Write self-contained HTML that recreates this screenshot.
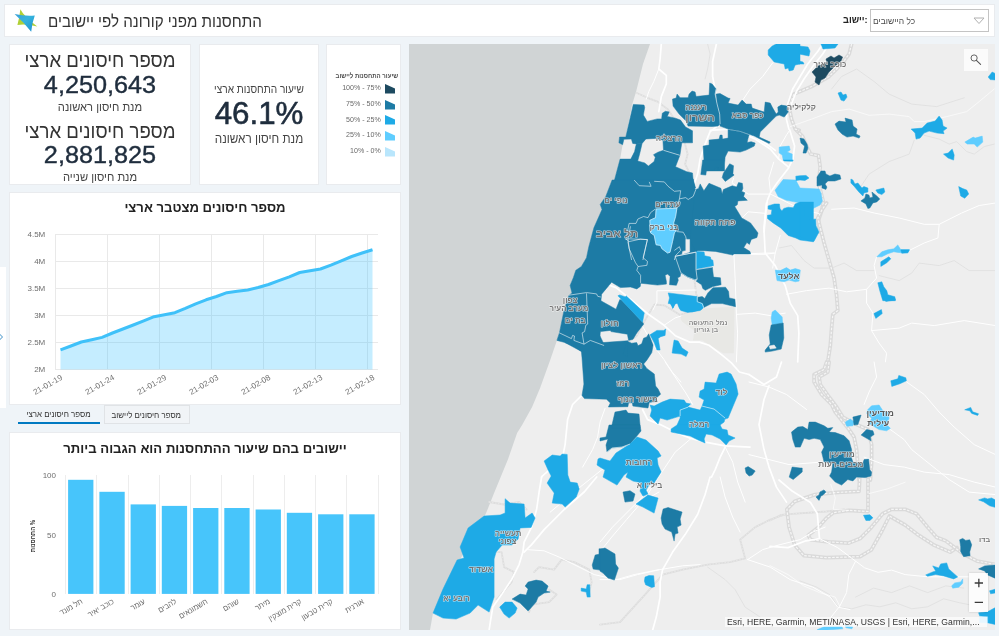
<!DOCTYPE html>
<html lang="he">
<head>
<meta charset="utf-8">
<title>התחסנות מפני קורונה לפי יישובים</title>
<style>
*{box-sizing:border-box;margin:0;padding:0}
html,body{width:999px;height:636px;overflow:hidden;background:#eff4f8;font-family:"Liberation Sans","DejaVu Sans",sans-serif;color:#2b3a4a}
.abs{position:absolute}
.card{position:absolute;background:#fff;box-shadow:inset 0 0 0 1px #e9ebee}
.c{position:absolute;left:0;right:0;text-align:center;white-space:nowrap}
.he{direction:rtl;transform:scaleX(.93)}
#hdr{left:4px;top:4px;width:991px;height:33px}
#title{position:absolute;left:44.2px;top:5.5px;font-size:16.5px;line-height:22px;color:#333;white-space:nowrap;direction:rtl;transform-origin:left center;transform:scaleX(.9185)}
#sel{position:absolute;left:866px;top:5px;width:119px;height:23px;border:1px solid #c4c4c4;background:#fff}
#sel span{position:absolute;left:2.4px;top:4px;font-size:9.15px;line-height:14px;color:#4a4a4a;direction:rtl;white-space:nowrap;transform-origin:left center;transform:scaleX(.93)}
#sellab{position:absolute;left:838.8px;top:9px;font-size:9.9px;font-weight:bold;line-height:14px;color:#222;direction:ltr;white-space:nowrap;transform-origin:left center;transform:scaleX(.93)}
.big{font-size:20px;line-height:24px;color:#333}
.num{font-size:23.6px;line-height:28px;color:#1f2d3d;direction:ltr;-webkit-text-stroke:.4px #1f2d3d;transform:scaleX(1.07)}
.sm{font-size:12px;line-height:14px;color:#444}
.ttl{font-size:14px;line-height:18px;font-weight:bold;color:#222}
.tab{position:absolute;top:405px;height:19px;font-size:8.5px;line-height:18px;text-align:center;color:#333;white-space:nowrap}
.tab span{display:inline-block;direction:rtl;transform:scaleX(.93)}
#map{position:absolute;left:409px;top:44px;width:585.6px;height:586px;overflow:hidden;background:#eeeeee}
</style>
</head>
<body>
<div class="abs" style="left:0;top:267px;width:6px;height:141px;background:#fff"></div>
<svg class="abs" style="left:0;top:331px" width="6" height="12" viewBox="0 0 6 12"><path d="M-2 1.5 L2.5 6 L-2 10.5" fill="none" stroke="#3b8fc7" stroke-width="1"/></svg>
<div class="card" id="hdr">
  <svg class="abs" style="left:10px;top:4px" width="26" height="26" viewBox="0 0 26 26">
    <defs><linearGradient id="lg" x1="0" y1="0" x2="1" y2="1"><stop offset="0" stop-color="#3a9fd6"/><stop offset=".45" stop-color="#35b4de"/><stop offset="1" stop-color="#1c8fcf"/></linearGradient></defs>
    <path d="M6.4 1.2 Q9.5 7.8 23.3 18.6 Q12 15.6 3.4 17 Q5.3 10 6.4 1.2 Z" fill="#b0d036"/>
    <path d="M0.6 6 Q10.5 8.4 20.8 7.6 Q18 15 17.2 23.8 Q10 14.6 0.6 6 Z" fill="url(#lg)"/>
  </svg>
  <div id="title">התחסנות מפני קורונה לפי יישובים</div>
  <div id="sellab">יישוב:</div>
  <div id="sel"><span>כל היישובים</span>
    <svg class="abs" style="left:102px;top:7px" width="12" height="8" viewBox="0 0 12 8"><path d="M1 1 L6 6.5 L11 1 Z" fill="none" stroke="#b0b0b0" stroke-width="1"/></svg>
  </div>
</div>

<div class="card" style="left:9px;top:44px;width:182px;height:141px">
  <div class="c big he" style="top:4px">מספר חיסונים ארצי</div>
  <div class="c num" style="top:27px">4,250,643</div>
  <div class="c sm he" style="top:56px">מנת חיסון ראשונה</div>
  <div class="c big he" style="top:75px">מספר חיסונים ארצי</div>
  <div class="c num" style="top:97px">2,881,825</div>
  <div class="c sm he" style="top:126px">מנת חיסון שנייה</div>
</div>

<div class="card" style="left:199px;top:44px;width:120px;height:141px">
  <div class="c sm he" style="top:38px;font-size:11px;transform:scaleX(.92)">שיעור התחסנות ארצי</div>
  <div class="c" style="top:51px;font-size:30.5px;line-height:36px;color:#1f2d3d;direction:ltr;-webkit-text-stroke:.55px #1f2d3d;transform:scaleX(1.026)">46.1%</div>
  <div class="c sm he" style="top:88px;font-size:12.6px">מנת חיסון ראשונה</div>
</div>
<div class="card" id="legend" style="left:326px;top:44px;width:75px;height:141px">
<div class="abs he" style="right:2.8px;top:26.6px;font-size:6.9px;line-height:10px;color:#4f4f4f;font-weight:bold;transform-origin:right center;transform:scaleX(.88);white-space:nowrap">שיעור התחסנות ליישוב</div>
<div class="abs" style="right:20.2px;top:39.4px;font-size:7.1px;line-height:10px;color:#6a6a6a;white-space:nowrap;direction:ltr">100% - 75%</div><svg class="abs" style="left:59px;top:40.0px" width="10" height="10" viewBox="0 0 10 10"><polygon points="0,0 10,4.6 10,9.6 0,9.6" fill="#1d4a60"/></svg>
<div class="abs" style="right:20.2px;top:55.2px;font-size:7.1px;line-height:10px;color:#6a6a6a;white-space:nowrap;direction:ltr">75% - 50%</div><svg class="abs" style="left:59px;top:55.8px" width="10" height="10" viewBox="0 0 10 10"><polygon points="0,0 10,4.6 10,9.6 0,9.6" fill="#1d7ba5"/></svg>
<div class="abs" style="right:20.2px;top:70.8px;font-size:7.1px;line-height:10px;color:#6a6a6a;white-space:nowrap;direction:ltr">50% - 25%</div><svg class="abs" style="left:59px;top:71.4px" width="10" height="10" viewBox="0 0 10 10"><polygon points="0,0 10,4.6 10,9.6 0,9.6" fill="#1eaae6"/></svg>
<div class="abs" style="right:20.2px;top:86.4px;font-size:7.1px;line-height:10px;color:#6a6a6a;white-space:nowrap;direction:ltr">25% - 10%</div><svg class="abs" style="left:59px;top:87.0px" width="10" height="10" viewBox="0 0 10 10"><polygon points="0,0 10,4.6 10,9.6 0,9.6" fill="#5fcdff"/></svg>
<div class="abs" style="right:20.2px;top:101.9px;font-size:7.1px;line-height:10px;color:#6a6a6a;white-space:nowrap;direction:ltr">10% - 0%</div><svg class="abs" style="left:59px;top:102.5px" width="10" height="10" viewBox="0 0 10 10"><polygon points="0,0 10,4.6 10,9.6 0,9.6" fill="#b9e6fc"/></svg>
</div>

<div class="card" id="linecard" style="left:9px;top:192px;width:392px;height:213px">
  <div class="c ttl he" style="top:7px;font-size:13px;transform:scaleX(1.008)">מספר חיסונים מצטבר ארצי</div>
</div>
<svg class="abs" style="left:0;top:0" width="410" height="430" viewBox="0 0 410 430">
<line x1="55" y1="234.5" x2="378" y2="234.5" stroke="#e9e9e9" stroke-width="1"/><line x1="55" y1="261.5" x2="378" y2="261.5" stroke="#e9e9e9" stroke-width="1"/><line x1="55" y1="288.5" x2="378" y2="288.5" stroke="#e9e9e9" stroke-width="1"/><line x1="55" y1="315.5" x2="378" y2="315.5" stroke="#e9e9e9" stroke-width="1"/><line x1="55" y1="342.5" x2="378" y2="342.5" stroke="#e9e9e9" stroke-width="1"/><line x1="55" y1="369.5" x2="378" y2="369.5" stroke="#e9e9e9" stroke-width="1"/><line x1="55.5" y1="234" x2="55.5" y2="370" stroke="#e9e9e9" stroke-width="1"/><line x1="107.5" y1="234" x2="107.5" y2="370" stroke="#e9e9e9" stroke-width="1"/><line x1="159.5" y1="234" x2="159.5" y2="370" stroke="#e9e9e9" stroke-width="1"/><line x1="211.5" y1="234" x2="211.5" y2="370" stroke="#e9e9e9" stroke-width="1"/><line x1="263.5" y1="234" x2="263.5" y2="370" stroke="#e9e9e9" stroke-width="1"/><line x1="315.5" y1="234" x2="315.5" y2="370" stroke="#e9e9e9" stroke-width="1"/><line x1="367.5" y1="234" x2="367.5" y2="370" stroke="#e9e9e9" stroke-width="1"/><path d="M60.5,349.9 L70.9,346.0 L81.3,342.0 L91.7,339.7 L102.1,337.4 L112.5,333.0 L122.9,329.0 L133.3,325.0 L143.7,320.8 L154.1,316.7 L164.5,314.7 L174.9,312.7 L185.3,308.4 L195.7,303.8 L206.1,299.8 L216.5,296.5 L226.9,292.7 L237.3,291.3 L247.7,290.0 L258.1,287.5 L268.5,284.5 L278.9,280.7 L289.3,276.8 L299.7,272.5 L310.1,270.7 L320.5,269.0 L330.9,265.2 L341.3,260.8 L351.7,256.5 L362.1,253.0 L372.5,249.7 L372.5,369.5 L60.5,369.5 Z" fill="#40c4ff" fill-opacity=".3"/><path d="M60.5,349.9 L70.9,346.0 L81.3,342.0 L91.7,339.7 L102.1,337.4 L112.5,333.0 L122.9,329.0 L133.3,325.0 L143.7,320.8 L154.1,316.7 L164.5,314.7 L174.9,312.7 L185.3,308.4 L195.7,303.8 L206.1,299.8 L216.5,296.5 L226.9,292.7 L237.3,291.3 L247.7,290.0 L258.1,287.5 L268.5,284.5 L278.9,280.7 L289.3,276.8 L299.7,272.5 L310.1,270.7 L320.5,269.0 L330.9,265.2 L341.3,260.8 L351.7,256.5 L362.1,253.0 L372.5,249.7" fill="none" stroke="#3fc1f9" stroke-width="3" stroke-linejoin="round"/><text x="45.3" y="236.9" text-anchor="end" font-size="8" fill="#6e6e6e">4.5M</text><text x="45.3" y="263.9" text-anchor="end" font-size="8" fill="#6e6e6e">4M</text><text x="45.3" y="290.9" text-anchor="end" font-size="8" fill="#6e6e6e">3.5M</text><text x="45.3" y="317.9" text-anchor="end" font-size="8" fill="#6e6e6e">3M</text><text x="45.3" y="344.9" text-anchor="end" font-size="8" fill="#6e6e6e">2.5M</text><text x="45.3" y="371.9" text-anchor="end" font-size="8" fill="#6e6e6e">2M</text><text transform="translate(63.0,379.0) rotate(-30)" text-anchor="end" font-size="8" fill="#6e6e6e">21-01-19</text><text transform="translate(115.0,379.0) rotate(-30)" text-anchor="end" font-size="8" fill="#6e6e6e">21-01-24</text><text transform="translate(167.0,379.0) rotate(-30)" text-anchor="end" font-size="8" fill="#6e6e6e">21-01-29</text><text transform="translate(219.0,379.0) rotate(-30)" text-anchor="end" font-size="8" fill="#6e6e6e">21-02-03</text><text transform="translate(271.0,379.0) rotate(-30)" text-anchor="end" font-size="8" fill="#6e6e6e">21-02-08</text><text transform="translate(323.0,379.0) rotate(-30)" text-anchor="end" font-size="8" fill="#6e6e6e">21-02-13</text><text transform="translate(375.0,379.0) rotate(-30)" text-anchor="end" font-size="8" fill="#6e6e6e">21-02-18</text></svg>

<div class="tab" style="left:18px;width:82px;border-bottom:2px solid #0079c1"><span>מספר חיסונים ארצי</span></div>
<div class="tab" style="left:103.5px;width:86.5px;text-indent:-2.5px;background:#f1f4f7;border:1px solid #e0e3e6"><span>מספר חיסונים ליישוב</span></div>

<div class="card" id="barcard" style="left:9px;top:432px;width:392px;height:198px">
  <div class="c ttl he" style="top:8px;font-size:13.5px;transform:scaleX(.975)">יישובים בהם שיעור ההתחסנות הוא הגבוה ביותר</div>
</div>
<svg class="abs" style="left:0;top:430px" width="410" height="206" viewBox="0 430 410 206">
<line x1="65.5" y1="475" x2="65.5" y2="594" stroke="#ededed" stroke-width="1"/><line x1="96.5" y1="475" x2="96.5" y2="594" stroke="#ededed" stroke-width="1"/><line x1="128.5" y1="475" x2="128.5" y2="594" stroke="#ededed" stroke-width="1"/><line x1="159.5" y1="475" x2="159.5" y2="594" stroke="#ededed" stroke-width="1"/><line x1="190.5" y1="475" x2="190.5" y2="594" stroke="#ededed" stroke-width="1"/><line x1="221.5" y1="475" x2="221.5" y2="594" stroke="#ededed" stroke-width="1"/><line x1="253.5" y1="475" x2="253.5" y2="594" stroke="#ededed" stroke-width="1"/><line x1="284.5" y1="475" x2="284.5" y2="594" stroke="#ededed" stroke-width="1"/><line x1="315.5" y1="475" x2="315.5" y2="594" stroke="#ededed" stroke-width="1"/><line x1="346.5" y1="475" x2="346.5" y2="594" stroke="#ededed" stroke-width="1"/><line x1="378.5" y1="475" x2="378.5" y2="594" stroke="#ededed" stroke-width="1"/><rect x="68.1" y="479.8" width="25.3" height="114.1" fill="#47c5fb"/><rect x="99.4" y="491.8" width="25.3" height="102.1" fill="#47c5fb"/><rect x="130.6" y="504.4" width="25.3" height="89.5" fill="#47c5fb"/><rect x="161.8" y="505.9" width="25.3" height="88.0" fill="#47c5fb"/><rect x="193.1" y="508.0" width="25.3" height="85.9" fill="#47c5fb"/><rect x="224.3" y="508.0" width="25.3" height="85.9" fill="#47c5fb"/><rect x="255.6" y="509.5" width="25.3" height="84.4" fill="#47c5fb"/><rect x="286.8" y="512.8" width="25.3" height="81.1" fill="#47c5fb"/><rect x="318.1" y="514.3" width="25.3" height="79.6" fill="#47c5fb"/><rect x="349.3" y="514.3" width="25.3" height="79.6" fill="#47c5fb"/><text x="56" y="477.9" text-anchor="end" font-size="8" fill="#6e6e6e">100</text><text x="56" y="537.6" text-anchor="end" font-size="8" fill="#6e6e6e">50</text><text x="56" y="597.1" text-anchor="end" font-size="8" fill="#6e6e6e">0</text><text transform="translate(83.3,603.0) rotate(-30) scale(.93,1)" text-anchor="start" direction="rtl" font-size="8" fill="#6e6e6e">תל מונד</text><text transform="translate(114.6,603.0) rotate(-30) scale(.93,1)" text-anchor="start" direction="rtl" font-size="8" fill="#6e6e6e">כוכב יאיר</text><text transform="translate(145.8,603.0) rotate(-30) scale(.93,1)" text-anchor="start" direction="rtl" font-size="8" fill="#6e6e6e">עומר</text><text transform="translate(177.1,603.0) rotate(-30) scale(.93,1)" text-anchor="start" direction="rtl" font-size="8" fill="#6e6e6e">להבים</text><text transform="translate(208.3,603.0) rotate(-30) scale(.93,1)" text-anchor="start" direction="rtl" font-size="8" fill="#6e6e6e">חשמונאים</text><text transform="translate(239.6,603.0) rotate(-30) scale(.93,1)" text-anchor="start" direction="rtl" font-size="8" fill="#6e6e6e">שוהם</text><text transform="translate(270.8,603.0) rotate(-30) scale(.93,1)" text-anchor="start" direction="rtl" font-size="8" fill="#6e6e6e">מיתר</text><text transform="translate(302.1,603.0) rotate(-30) scale(.93,1)" text-anchor="start" direction="rtl" font-size="8" fill="#6e6e6e">קרית מוצקין</text><text transform="translate(333.3,603.0) rotate(-30) scale(.93,1)" text-anchor="start" direction="rtl" font-size="8" fill="#6e6e6e">קרית טבעון</text><text transform="translate(364.6,603.0) rotate(-30) scale(.93,1)" text-anchor="start" direction="rtl" font-size="8" fill="#6e6e6e">אורנית</text><text transform="translate(34.6,536) rotate(-90) scale(.92,1)" text-anchor="middle" font-size="6.5" font-weight="bold" fill="#333">התחסנות %</text></svg>

<div id="map">
<svg class="abs" style="left:0;top:0" width="586" height="586" viewBox="409 44 586 586" font-family="Liberation Sans, DejaVu Sans, sans-serif">
<rect x="409" y="44" width="586" height="586" fill="#eeeeee"/>
<polygon points="409,44 650,44 643,64 636,92 632,105 625.8,137.1 619.5,137.1 618.9,142.8 622.6,144.7 620.1,159.1 614.5,180 612.1,180 605.8,196.4 600.2,204.5 602,209.6 593.9,227.8 588.8,246.7 586.5,257.7 581.4,266.5 575.8,270.3 573.3,277.8 570.1,285.4 572,292.9 568.9,295.4 563.8,311.5 559.4,332.9 556.9,340.4 550.2,360.1 540.1,388.1 532.1,407.1 522.1,425 517.1,433 508.1,459 494.1,493.1 486.1,513.1 481,523 470,540 450,580 433,613 430,630 409,630" fill="#d0d4d5"/>
<polygon points="680.1,316.5 689.7,312.5 702.6,308.5 728.2,306.9 734.6,306.9 733.8,353.3 723.4,353.3 712.2,346.9 702.6,340.5 692.9,340.5 694.6,330.9 681.7,321.3" fill="#e8e8e5"/>
<g fill="none" stroke-linejoin="round" stroke-linecap="round">
<polyline points="707.6,44.0 710.1,54.0 707.6,69.0 705.1,79.0" stroke="#dedede" stroke-width=".8"/>
<polyline points="831.6,89.0 841.6,76.5 856.6,69.0 874.1,81.5 889.1,94.1 911.7,104.1 936.7,106.6 964.2,97.8" stroke="#dedede" stroke-width=".8"/>
<polyline points="914.2,140.3 909.2,154.1 889.1,161.6 869.1,174.1 859.1,189.1" stroke="#dedede" stroke-width=".8"/>
<polyline points="924.2,135.3 939.2,139.1 949.2,144.1 956.7,141.6 966.7,151.6 974.2,154.1 984.2,146.6 994.2,144.1" stroke="#dedede" stroke-width=".8"/>
<polyline points="779.0,248.0 791.5,245.5 804.1,260.6 814.1,268.1 831.6,268.1 844.1,263.1 856.6,270.6 874.1,270.6" stroke="#dedede" stroke-width=".8"/>
<polyline points="879.1,275.6 899.2,280.6 911.7,273.1 919.2,263.1 939.2,265.6 954.2,260.6 969.2,270.6 995.5,270.6" stroke="#dedede" stroke-width=".8"/>
<polyline points="707.6,567.1 725.1,579.6 735.1,589.6 745.1,607.1 760.2,617.1" stroke="#dedede" stroke-width=".8"/>
<polyline points="800.0,580.9 816.0,586.8 829.9,594.8 837.9,606.8 851.9,608.8 865.9,604.8 879.8,606.8 895.8,602.8 911.8,608.8 927.7,606.8 943.7,598.8 959.7,602.8 969.7,604.8" stroke="#dedede" stroke-width=".8"/>
<polyline points="855.6,597.1 873.6,588.1 891.6,592.6 909.6,585.9 927.7,592.6 945.7,585.9 963.7,588.1" stroke="#dedede" stroke-width=".8"/>
<polyline points="636.3,92.8 647.5,97.8 657.6,101.6 667.6,109.1 672.6,116.6 680.1,126.6 685.1,144.1 687.6,154.1 685.1,164.1 690.1,174.1 692.6,184.1" stroke="#dddddd" stroke-width="1.8"/>
<polyline points="636.3,92.8 647.5,97.8 657.6,101.6 667.6,109.1 672.6,116.6 680.1,126.6 685.1,144.1 687.6,154.1 685.1,164.1 690.1,174.1 692.6,184.1" stroke="#f0f0f0" stroke-width=".6" stroke-dasharray="1.5 1.5" stroke-linecap="butt"/>
<polyline points="694.6,281.2 696.2,294.0 702.6,308.5 689.7,311.7 680.1,314.9 672.1,310.1 664.1,305.3 654.5,304.5 648.1,314.9 641.7,326.1 636.9,335.7 628.8,342.1 625.6,353.3" stroke="#dddddd" stroke-width="1.8"/>
<polyline points="694.6,281.2 696.2,294.0 702.6,308.5 689.7,311.7 680.1,314.9 672.1,310.1 664.1,305.3 654.5,304.5 648.1,314.9 641.7,326.1 636.9,335.7 628.8,342.1 625.6,353.3" stroke="#f0f0f0" stroke-width=".6" stroke-dasharray="1.5 1.5" stroke-linecap="butt"/>
<polyline points="489.1,502.0 504.1,504.5 519.1,502.0 526.6,509.5" stroke="#dddddd" stroke-width="1.8"/>
<polyline points="489.1,502.0 504.1,504.5 519.1,502.0 526.6,509.5" stroke="#f0f0f0" stroke-width=".6" stroke-dasharray="1.5 1.5" stroke-linecap="butt"/>
<polyline points="494.1,552.1 501.6,552.1 504.1,567.1 514.1,572.1 511.6,582.1 496.6,599.6" stroke="#dddddd" stroke-width="1.8"/>
<polyline points="494.1,552.1 501.6,552.1 504.1,567.1 514.1,572.1 511.6,582.1 496.6,599.6" stroke="#f0f0f0" stroke-width=".6" stroke-dasharray="1.5 1.5" stroke-linecap="butt"/>
<polyline points="534.1,572.1 539.1,567.1 554.1,569.6 561.7,559.6 574.2,562.1 589.2,569.6 591.7,582.1 589.2,592.1" stroke="#dddddd" stroke-width="1.8"/>
<polyline points="534.1,572.1 539.1,567.1 554.1,569.6 561.7,559.6 574.2,562.1 589.2,569.6 591.7,582.1 589.2,592.1" stroke="#f0f0f0" stroke-width=".6" stroke-dasharray="1.5 1.5" stroke-linecap="butt"/>
<polyline points="549.1,589.6 556.6,594.6 549.1,602.1 531.6,604.6 529.1,612.1" stroke="#dddddd" stroke-width="1.8"/>
<polyline points="549.1,589.6 556.6,594.6 549.1,602.1 531.6,604.6 529.1,612.1" stroke="#f0f0f0" stroke-width=".6" stroke-dasharray="1.5 1.5" stroke-linecap="butt"/>
<polyline points="600.0,624.6 620.0,622.1 645.0,594.6 662.6,574.6 682.6,569.6 707.6,564.6 730.1,562.1 745.1,558.3 740.1,539.6 755.2,527.1 770.2,519.5 785.2,514.5" stroke="#dddddd" stroke-width="1.8"/>
<polyline points="600.0,624.6 620.0,622.1 645.0,594.6 662.6,574.6 682.6,569.6 707.6,564.6 730.1,562.1 745.1,558.3 740.1,539.6 755.2,527.1 770.2,519.5 785.2,514.5" stroke="#f0f0f0" stroke-width=".6" stroke-dasharray="1.5 1.5" stroke-linecap="butt"/>
<polyline points="770.0,520.5 781.3,514.9 792.5,513.8 826.3,511.5 844.3,509.3" stroke="#dddddd" stroke-width="1.8"/>
<polyline points="770.0,520.5 781.3,514.9 792.5,513.8 826.3,511.5 844.3,509.3" stroke="#f0f0f0" stroke-width=".6" stroke-dasharray="1.5 1.5" stroke-linecap="butt"/>
<polyline points="796.2,130.0 802.6,136.4 807.4,147.6 810.6,154.0 818.6,155.7 820.2,166.9 818.6,182.9 823.4,202.1 821.8,210.2 818.6,219.8 818.6,232.0" stroke="#dadada" stroke-width="3.8"/>
<polyline points="796.2,130.0 802.6,136.4 807.4,147.6 810.6,154.0 818.6,155.7 820.2,166.9 818.6,182.9 823.4,202.1 821.8,210.2 818.6,219.8 818.6,232.0" stroke="#f6f6f6" stroke-width="1.2" stroke-dasharray="2.6 1.4" stroke-linecap="butt"/>
<polyline points="851.6,44.0 849.1,54.0 841.6,64.0 829.1,76.5 811.6,86.5 794.0,94.1 789.0,106.6 791.5,119.1 795.3,129.1 799.1,130.3" stroke="#dadada" stroke-width="3.8"/>
<polyline points="851.6,44.0 849.1,54.0 841.6,64.0 829.1,76.5 811.6,86.5 794.0,94.1 789.0,106.6 791.5,119.1 795.3,129.1 799.1,130.3" stroke="#f6f6f6" stroke-width="1.2" stroke-dasharray="2.6 1.4" stroke-linecap="butt"/>
<polyline points="826.6,203.0 821.6,210.5 817.8,218.0 820.3,228.0 824.1,243.0 829.1,260.6 834.1,278.1 836.6,295.6 837.8,310.6 832.8,314.4 831.6,328.1 830.3,345.6 827.8,361.9" stroke="#dadada" stroke-width="3.8"/>
<polyline points="826.6,203.0 821.6,210.5 817.8,218.0 820.3,228.0 824.1,243.0 829.1,260.6 834.1,278.1 836.6,295.6 837.8,310.6 832.8,314.4 831.6,328.1 830.3,345.6 827.8,361.9" stroke="#f6f6f6" stroke-width="1.2" stroke-dasharray="2.6 1.4" stroke-linecap="butt"/>
<polyline points="826.6,362.0 824.1,369.5 814.1,374.5 814.1,382.0 821.6,394.5 831.6,404.5 835.3,412.1 849.1,429.6 854.1,437.1 856.6,449.6 857.9,467.1 859.1,480.1" stroke="#dadada" stroke-width="3.8"/>
<polyline points="826.6,362.0 824.1,369.5 814.1,374.5 814.1,382.0 821.6,394.5 831.6,404.5 835.3,412.1 849.1,429.6 854.1,437.1 856.6,449.6 857.9,467.1 859.1,480.1" stroke="#f6f6f6" stroke-width="1.2" stroke-dasharray="2.6 1.4" stroke-linecap="butt"/>
<polyline points="829.1,362.0 827.8,372.0 819.1,377.0 820.3,384.5 829.1,397.0 836.6,407.0 842.8,417.1 856.6,424.6 867.9,429.6 871.6,444.6 871.6,462.1 870.4,480.1" stroke="#dadada" stroke-width="3.8"/>
<polyline points="829.1,362.0 827.8,372.0 819.1,377.0 820.3,384.5 829.1,397.0 836.6,407.0 842.8,417.1 856.6,424.6 867.9,429.6 871.6,444.6 871.6,462.1 870.4,480.1" stroke="#f6f6f6" stroke-width="1.2" stroke-dasharray="2.6 1.4" stroke-linecap="butt"/>
<polyline points="860.1,471.0 859.0,491.3 837.6,492.4 815.0,494.6 794.8,501.4 786.9,509.3 789.1,527.3 794.8,545.3 803.8,555.5 826.3,557.7 860.1,556.6 871.4,549.8 881.5,531.8 889.4,516.0 905.1,525.0 918.6,535.2 934.4,545.3 950.2,552.1 956.9,547.6" stroke="#dadada" stroke-width="3.8"/>
<polyline points="860.1,471.0 859.0,491.3 837.6,492.4 815.0,494.6 794.8,501.4 786.9,509.3 789.1,527.3 794.8,545.3 803.8,555.5 826.3,557.7 860.1,556.6 871.4,549.8 881.5,531.8 889.4,516.0 905.1,525.0 918.6,535.2 934.4,545.3 950.2,552.1 956.9,547.6" stroke="#f6f6f6" stroke-width="1.2" stroke-dasharray="2.6 1.4" stroke-linecap="butt"/>
<polyline points="868.0,471.0 868.0,511.5 848.8,510.4 833.1,512.7 826.3,518.3 818.4,527.3 808.3,535.2 810.5,539.7 828.6,541.9 848.8,543.1 860.1,538.6 871.4,527.3 882.6,513.8 891.6,509.3 905.1,509.3 916.4,513.8 927.7,527.3 936.7,537.4 945.7,540.8 954.7,547.6 963.7,554.3 977.2,561.1 995.2,564.5" stroke="#dadada" stroke-width="3.8"/>
<polyline points="868.0,471.0 868.0,511.5 848.8,510.4 833.1,512.7 826.3,518.3 818.4,527.3 808.3,535.2 810.5,539.7 828.6,541.9 848.8,543.1 860.1,538.6 871.4,527.3 882.6,513.8 891.6,509.3 905.1,509.3 916.4,513.8 927.7,527.3 936.7,537.4 945.7,540.8 954.7,547.6 963.7,554.3 977.2,561.1 995.2,564.5" stroke="#f6f6f6" stroke-width="1.2" stroke-dasharray="2.6 1.4" stroke-linecap="butt"/>
<polyline points="790.3,126.6 811.6,119.1 831.6,111.6 849.1,109.1 869.1,115.3 889.1,114.1 909.2,116.6 914.2,121.6 924.2,121.6 946.7,116.6 966.7,111.6 979.2,101.6 994.2,89.0" stroke="#fbfbfb" stroke-width=".8"/>
<polyline points="770.0,565.6 788.0,574.6 803.8,585.9 819.5,592.6 835.3,597.1 839.8,606.1" stroke="#fbfbfb" stroke-width=".8"/>
<polyline points="830.8,484.5 835.3,498.0 833.1,509.3 848.8,510.4" stroke="#fbfbfb" stroke-width=".8"/>
<polyline points="869.1,493.5 887.1,489.0 905.1,482.3" stroke="#fbfbfb" stroke-width=".8"/>
<polyline points="658.8,69.0 653.8,81.5 648.8,91.5 646.3,99.1" stroke="#ffffff" stroke-width="1"/>
<polyline points="770.5,194.1 748.1,194.1 732.1,182.9 733.7,178.1" stroke="#ffffff" stroke-width="1"/>
<polyline points="773.7,162.1 768.9,178.1 770.5,192.5" stroke="#ffffff" stroke-width="1"/>
<polyline points="778.6,158.9 780.2,146.0 786.6,134.8 789.8,130.0" stroke="#ffffff" stroke-width="1"/>
<polyline points="770.5,194.1 789.8,203.7 802.6,210.2 818.6,213.4" stroke="#ffffff" stroke-width="1"/>
<polyline points="765.7,213.4 748.1,211.8 741.7,218.2" stroke="#ffffff" stroke-width="1"/>
<polyline points="772.7,62.8 762.7,76.5 750.2,89.0 742.6,100.3" stroke="#ffffff" stroke-width="1"/>
<polyline points="780.2,235.5 775.2,253.1 772.7,268.1" stroke="#ffffff" stroke-width="1"/>
<polyline points="732.6,254.3 765.2,253.1 775.2,253.1" stroke="#ffffff" stroke-width="1"/>
<polyline points="733.9,254.3 735.1,278.1 736.4,313.1 737.6,333.1 736.4,361.9" stroke="#ffffff" stroke-width="1"/>
<polyline points="642.5,326.1 654.5,346.9 664.1,359.7 672.1,371.9 681.0,382.0" stroke="#ffffff" stroke-width="1"/>
<polyline points="652.9,310.0 656.9,302.0 656.9,290.8 696.2,290.0" stroke="#ffffff" stroke-width="1"/>
<polyline points="664.1,325.3 675.0,318.0 681.0,316.0" stroke="#ffffff" stroke-width="1"/>
<polyline points="736.4,314.4 755.2,313.1 770.2,315.6 785.2,313.1" stroke="#ffffff" stroke-width="1"/>
<polyline points="749.0,254.3 765.3,254.3 774.0,253.1" stroke="#ffffff" stroke-width="1"/>
<polyline points="831.6,209.3 854.1,208.0 874.1,213.0 899.2,218.0 924.2,224.3 939.2,224.3 961.7,213.0 979.2,205.5 995.5,203.0" stroke="#ffffff" stroke-width="1"/>
<polyline points="939.2,224.3 937.9,238.0 924.2,243.0 909.2,250.5 899.2,253.1" stroke="#ffffff" stroke-width="1"/>
<polyline points="876.6,256.8 874.1,265.6 876.6,278.1 866.6,289.3 866.6,303.1 872.9,313.1 871.6,330.6 879.1,343.1 886.6,353.2 885.4,361.9" stroke="#ffffff" stroke-width="1"/>
<polyline points="786.5,294.3 806.6,290.6 829.1,288.1 846.6,291.8 866.6,289.3" stroke="#ffffff" stroke-width="1"/>
<polyline points="871.6,330.6 899.2,328.1 911.7,323.1 934.2,325.6 964.2,320.6 995.5,325.6" stroke="#ffffff" stroke-width="1"/>
<polyline points="605.1,408.3 600.1,422.1 597.6,437.1 592.6,449.6 582.6,467.1" stroke="#ffffff" stroke-width="1"/>
<polyline points="605.1,467.1 580.1,487.1 550.1,512.2" stroke="#ffffff" stroke-width="1"/>
<polyline points="692.7,437.1 675.2,452.1 665.2,467.1 655.2,482.1 647.6,494.6 635.1,507.1" stroke="#ffffff" stroke-width="1"/>
<polyline points="665.2,362.0 675.2,377.0 685.2,392.0 692.7,404.5" stroke="#ffffff" stroke-width="1"/>
<polyline points="725.2,447.1 732.7,462.1 737.7,482.1 745.2,502.1" stroke="#ffffff" stroke-width="1"/>
<polyline points="749.0,382.0 769.0,387.0 786.5,394.5 806.6,409.5" stroke="#ffffff" stroke-width="1"/>
<polyline points="749.0,454.6 769.0,459.6 789.0,464.6 821.6,462.1" stroke="#ffffff" stroke-width="1"/>
<polyline points="864.1,404.5 869.1,392.0 876.6,377.0 874.1,362.0" stroke="#ffffff" stroke-width="1"/>
<polyline points="890.4,429.6 904.2,439.6 911.7,449.6 924.2,459.6 936.7,469.6 949.2,479.6 969.2,492.1 995.5,494.6" stroke="#ffffff" stroke-width="1"/>
<polyline points="864.1,457.1 884.1,464.6 904.2,467.1 924.2,472.1 949.2,474.6 974.2,482.1 995.5,487.1" stroke="#ffffff" stroke-width="1"/>
<polyline points="906.7,382.0 924.2,394.5 939.2,412.1 954.2,427.1 974.2,444.6 995.5,454.6" stroke="#ffffff" stroke-width="1"/>
<polyline points="526.6,549.6 544.1,550.8 559.2,557.1 579.2,567.1 594.2,574.6 616.7,579.6 634.2,574.6 659.0,569.6" stroke="#ffffff" stroke-width="1"/>
<polyline points="659.0,492.0 641.7,502.0 626.7,519.5 611.7,537.1 601.7,549.6 594.2,564.6" stroke="#ffffff" stroke-width="1"/>
<polyline points="600.0,579.6 620.0,579.6 637.5,574.6 660.1,569.6 682.6,565.8 700.1,564.6" stroke="#ffffff" stroke-width="1"/>
<polyline points="600.0,542.1 612.5,527.1 630.0,509.5 642.5,497.0 650.1,487.0" stroke="#ffffff" stroke-width="1"/>
<polyline points="747.6,559.6 762.7,549.6 780.2,544.6 800.2,539.6 812.7,532.1 825.2,527.1" stroke="#ffffff" stroke-width="1"/>
<polyline points="747.6,559.6 770.2,567.1 790.2,579.6 812.7,587.1 830.2,597.1 837.7,607.1 850.0,609.6" stroke="#ffffff" stroke-width="1"/>
<polyline points="720.1,477.0 725.1,497.0 732.6,517.0 740.1,532.1" stroke="#ffffff" stroke-width="1"/>
<polyline points="819.5,538.6 837.6,547.6 855.6,561.1 864.6,567.8 878.1,572.3 891.6,570.1 905.1,574.6 927.7,576.8 968.2,576.8" stroke="#ffffff" stroke-width="1"/>
<polyline points="855.6,561.1 848.8,574.6 846.6,592.6 839.8,606.1 830.8,617.4" stroke="#ffffff" stroke-width="1"/>
<polyline points="661.3,44.0 660.1,59.0 658.8,69.0 666.3,75.3 666.3,84.0 661.3,96.6 658.8,111.6" stroke="#ffffff" stroke-width="1.7"/>
<polyline points="710.1,130.3 727.6,129.1 740.1,131.6 755.2,136.6 770.2,146.6 775.2,150.4" stroke="#ffffff" stroke-width="1.7"/>
<polyline points="716.4,44.0 712.6,61.5 712.6,76.5 715.1,89.0 717.6,104.1 720.1,124.1 710.1,131.6 705.1,144.1 700.1,159.1 697.6,174.1 692.6,189.1 690.1,202.9" stroke="#ffffff" stroke-width="1.7"/>
<polyline points="822.7,44.0 817.7,51.5 807.7,64.0 800.2,76.5 792.7,89.0 787.7,104.1 786.4,119.1 788.9,129.1" stroke="#ffffff" stroke-width="1.7"/>
<polyline points="789.8,130.0 794.6,146.0 793.0,158.9 788.2,168.5 777.0,182.9 770.5,192.5 767.3,200.5 765.7,213.4 764.1,232.0" stroke="#ffffff" stroke-width="1.7"/>
<polyline points="738.5,131.6 756.1,139.6 770.5,149.2 778.6,158.9 788.2,166.9" stroke="#ffffff" stroke-width="1.7"/>
<polyline points="829.0,44.0 822.7,54.0 812.7,66.5 804.0,79.0 796.4,91.5 791.4,104.1" stroke="#ffffff" stroke-width="1.7"/>
<polyline points="766.4,203.0 763.9,228.0 765.2,253.1 775.2,265.6 785.2,285.6 790.2,303.1 797.7,315.6 798.9,333.1 797.7,361.9" stroke="#ffffff" stroke-width="1.7"/>
<polyline points="603.0,283.0 616.0,287.6 632.0,300.4 648.0,314.0 664.1,325.3 675.3,335.7 689.7,342.1 699.4,342.1 709.0,345.3 721.8,354.9 731.4,362.9 739.4,372.0 749.0,374.5" stroke="#ffffff" stroke-width="1.7"/>
<polyline points="581.3,395.8 572.6,404.5 567.6,419.6 565.1,444.6 562.6,457.1 552.6,467.1 542.5,475.9 541.5,477.1" stroke="#ffffff" stroke-width="1.7"/>
<polyline points="642.6,409.5 647.6,419.6 660.2,424.6 675.2,432.1 690.2,438.3 705.2,442.1 725.2,445.8 750.0,447.1" stroke="#ffffff" stroke-width="1.7"/>
<polyline points="725.2,447.1 720.2,457.1 715.2,469.6 711.5,477.1" stroke="#ffffff" stroke-width="1.7"/>
<polyline points="749.0,374.5 764.0,384.5 776.5,377.0 781.5,362.0" stroke="#ffffff" stroke-width="1.7"/>
<polyline points="769.0,385.8 764.0,399.5 759.0,424.6 764.0,449.6 769.0,467.1 776.5,487.1 786.5,502.1" stroke="#ffffff" stroke-width="1.7"/>
<polyline points="541.6,477.0 539.1,492.0 536.6,509.5 531.6,527.1 524.1,542.1 522.9,552.1 519.1,564.6 511.6,579.6 501.6,594.6 492.8,607.1 490.3,622.1 489.1,630.2" stroke="#ffffff" stroke-width="1.7"/>
<polyline points="596.7,477.0 584.2,492.0 564.2,509.5 544.1,529.6 531.6,544.6 524.1,552.1" stroke="#ffffff" stroke-width="1.7"/>
<polyline points="710.1,477.0 705.1,494.5 697.6,514.5 685.1,534.6 672.6,552.1 662.6,569.6 660.1,582.1 660.1,597.1 656.3,617.1 652.6,630.2" stroke="#ffffff" stroke-width="1.7"/>
<polyline points="779.0,480.0 792.5,491.3 810.5,502.5 817.3,513.8 819.5,538.6 806.0,540.8 788.0,547.6 770.0,546.4" stroke="#ffffff" stroke-width="1.7"/>
</g>
<polygon points="633.3,104.4 644.0,105.0 644.7,107.5 643.4,115.1 647.2,121.4 657.2,118.9 661.6,118.9 662.3,113.2 665.4,111.3 669.2,111.9 667.3,116.4 675.5,118.2 680.5,120.1 685.5,127.0 692.5,130.8 692.5,142.8 681.8,142.8 679.9,155.3 663.5,150.3 662.9,140.0 655.3,138.4 645.9,139.0 642.1,143.4 636.5,144.0 632.7,143.4 631.4,139.0 623.9,139.2 622.6,144.7 618.9,142.8 619.5,137.1 625.8,137.1" fill="#1d7ba5" stroke="#1d7ba5" stroke-width=".5"/>
<polygon points="636.5,144.0 642.1,143.4 639.6,154.1 637.7,161.0 644.7,162.9 648.4,166.0 654.1,161.6 655.3,157.2 653.5,154.7 657.9,152.2 663.5,150.3 679.9,155.3 675.5,166.7 686.8,171.7 692.5,173.0 693.1,180.0 695.6,188.1 614.5,188.1 614.5,180.0 620.1,159.1 630.8,159.1 634.6,151.6 635.8,145.9" fill="#1d7ba5" stroke="#1d7ba5" stroke-width=".5"/>
<polygon points="614.5,180.0 693.1,180.0 693.2,178.9 695.1,189.6 698.3,188.9 700.0,230.0 697.0,251.0 695.9,252.0 695.9,269.0 697.2,279.0 694.7,279.7 687.7,277.1 680.8,272.7 680.2,276.5 677.7,277.8 678.3,280.3 676.4,285.3 669.5,284.7 670.1,276.5 667.6,274.0 665.1,275.3 666.4,281.5 666.4,284.1 657.5,285.1 640.6,283.2 640.3,286.4 636.8,288.9 630.5,287.0 620.4,287.6 611.6,282.2 601.6,294.2 600.9,300.8 600.0,310.0 600.0,345.0 581.4,351.4 574.2,346.0 565.0,342.6 556.9,340.4 559.4,332.9 563.8,311.5 568.9,295.4 572.0,292.9 570.1,285.4 573.3,277.8 575.8,270.3 581.4,266.5 586.5,257.7 588.8,246.7 593.9,227.8 602.0,209.6 600.2,204.5 605.8,196.4 612.1,180.0" fill="#1d7ba5" stroke="#1d7ba5" stroke-width=".5"/>
<polygon points="695.1,189.6 698.3,188.9 700.2,183.9 703.9,190.8 709.0,183.3 720.9,188.3 722.2,194.0 723.4,189.6 732.2,185.8 736.6,187.0 738.5,182.6 742.3,183.3 742.9,188.3 741.7,191.4 744.8,192.7 743.6,196.5 747.3,200.3 737.9,200.9 737.3,204.7 734.7,206.5 741.7,217.9 750.5,222.9 758.0,233.0 756.9,237.5 751.3,239.4 749.4,244.4 746.9,242.5 743.7,247.6 750.0,251.4 750.6,253.9 733.6,253.9 733.0,255.1 715.4,251.4 704.1,250.7 696.5,250.7 695.9,252.0 690.0,240.0" fill="#1d7ba5" stroke="#1d7ba5" stroke-width=".5"/>
<polygon points="586.5,293.3 597.8,296.4 600.9,300.8 616.0,309.2 619.8,299.6 621.7,300.2 642.5,322.2 643.7,324.1 636.8,332.9 633.0,339.2 628.6,340.4 627.4,334.2 611.0,331.6 610.4,330.4 600.3,331.6 599.7,335.4 602.8,341.7 604.1,345.5 590.3,345.5 581.4,345.5 582.1,332.9" fill="#1d7ba5" stroke="#1d7ba5" stroke-width=".5"/>
<polygon points="631.7,343.2 636.7,342.6 638.0,345.7 641.7,343.8 643.6,338.2 646.8,336.9 648.6,333.8 653.1,345.1 651.8,352.6 646.8,360.2 643.6,364.0 646.8,368.4 654.3,374.0 655.6,386.0 658.1,389.1 660.6,394.2 655.6,398.6 657.5,401.7 649.3,402.3 648.0,408.0 632.9,406.1 632.3,402.7 628.5,403.0 627.9,406.7 608.4,407.0 610.3,403.0 606.5,399.2 584.5,398.6 582.0,395.4 583.9,384.1 582.0,357.7 581.4,351.4 565.0,342.6 565.0,336.3 583.9,337.5 602.7,342.6 627.9,340.7 627.3,357.0 622.9,354.5 625.4,346.4 627.3,341.3" fill="#1d7ba5" stroke="#1d7ba5" stroke-width=".5"/>
<polygon points="685.8,239.4 689.6,239.4 689.6,252.0 682.1,254.5 682.7,251.4 685.8,250.7" fill="#eeeeee" stroke="#eeeeee" stroke-width=".5"/>
<polygon points="656.1,208.9 676.9,208.3 675.6,216.5 673.7,222.8 674.4,229.1 676.3,230.9 674.4,232.8 672.5,241.6 670.0,252.3 667.5,253.0 661.8,248.6 660.5,245.4 656.1,244.8 654.2,235.3 650.5,232.8 649.8,220.3 655.5,217.7" fill="#5fcdff" stroke="#5fcdff" stroke-width=".5"/>
<polygon points="672.5,99.1 676.1,98.1 677.1,94.1 680.1,97.7 688.1,97.7 689.1,94.1 692.1,91.0 695.1,92.0 696.1,96.5 709.1,95.1 709.7,83.0 712.1,84.0 716.1,89.0 715.1,94.1 717.1,104.1 719.7,114.1 720.1,124.1 718.1,126.1 712.1,126.5 688.1,126.1 686.1,121.1 679.1,114.1 673.1,106.1" fill="#1d7ba5" stroke="#1d7ba5" stroke-width=".5"/>
<polygon points="716.1,94.1 720.1,93.6 728.1,98.1 730.1,98.5 728.1,103.1 738.1,105.1 742.1,100.1 746.1,104.1 751.2,104.1 752.2,108.1 764.2,112.1 765.2,102.1 770.2,103.1 772.2,107.1 776.2,114.1 778.2,112.1 777.8,107.1 781.2,105.1 787.2,106.1 788.2,112.1 784.2,117.1 779.2,115.1 776.2,116.1 760.2,132.1 759.2,137.1 770.2,142.1 769.2,143.5 754.2,136.1 740.1,131.1 728.1,129.1 720.1,126.1 719.7,114.1 717.1,104.1" fill="#1d7ba5" stroke="#1d7ba5" stroke-width=".5"/>
<polygon points="728.1,129.7 740.1,131.7 749.1,135.1 748.1,138.1 747.1,142.5 751.2,141.7 755.2,143.1 754.2,146.1 746.1,150.1 740.1,152.1 728.1,151.1 725.1,157.1 724.5,164.1 724.5,170.9 702.1,170.9 704.1,162.1 703.1,146.1 709.1,145.1 709.1,140.1 719.1,139.1 720.1,135.1 722.1,135.1 722.5,139.1 728.1,138.1" fill="#1d7ba5" stroke="#1d7ba5" stroke-width=".5"/>
<polygon points="772.2,46.0 776.2,44.0 800.0,44.0 800.0,64.0 795.2,65.0 793.2,70.0 789.2,71.0 788.2,68.0 785.2,69.0 784.2,64.0 774.2,62.0 768.2,55.0 768.2,50.0" fill="#1eaae6" stroke="#1eaae6" stroke-width=".5"/>
<polygon points="779.2,147.1 789.2,146.1 790.2,150.1 787.2,152.1 792.2,154.1 792.2,160.1 783.2,160.1 782.2,155.1 779.2,153.1" fill="#5fcdff" stroke="#5fcdff" stroke-width=".5"/>
<polygon points="702.7,160.0 724.1,160.0 723.4,166.9 718.4,170.1 718.4,167.5 715.3,166.9 714.6,170.1 706.4,170.7 705.8,175.1 700.8,174.5" fill="#1d7ba5" stroke="#1d7ba5" stroke-width=".5"/>
<polygon points="722.2,177.6 723.4,173.2 729.7,163.8 733.5,165.7 732.9,173.8 734.1,175.1 725.3,181.4" fill="#1d7ba5" stroke="#1d7ba5" stroke-width=".5"/>
<polygon points="812.0,72.0 818.0,66.0 827.0,63.0 826.0,59.0 831.0,56.0 834.0,58.0 839.0,55.0 842.6,57.0 841.0,61.0 835.0,66.0 829.0,72.0 825.0,78.0 821.0,80.0 819.0,85.0 815.0,82.0 816.0,77.0" fill="#1d4a60" stroke="#1d4a60" stroke-width=".5"/>
<polygon points="838.0,93.0 841.0,92.0 843.0,95.1 846.0,94.1 847.0,97.1 844.0,101.1 841.0,100.1" fill="#1eaae6" stroke="#1eaae6" stroke-width=".5"/>
<polygon points="835.0,124.1 839.0,121.1 846.0,122.1 845.0,118.1 852.1,120.1 853.1,126.1 857.1,129.1 856.1,134.1 860.1,136.1 859.1,138.1 853.1,136.1 847.0,137.1 842.0,134.1 838.0,130.1" fill="#1d7ba5" stroke="#1d7ba5" stroke-width=".5"/>
<polygon points="911.1,129.1 922.1,128.1 927.1,123.1 935.1,121.1 939.1,116.1 942.1,120.1 943.1,126.1 947.1,128.1 943.1,131.1 944.1,133.7 937.1,133.1 929.1,131.1 924.1,133.1 920.1,138.1 916.1,139.1 915.1,133.1" fill="#1eaae6" stroke="#1eaae6" stroke-width=".5"/>
<polygon points="964.8,142.1 973.2,137.1 975.2,138.1 982.2,136.1 982.8,142.1 977.2,147.1 974.2,144.1 967.2,144.1" fill="#5fcdff" stroke="#5fcdff" stroke-width=".5"/>
<polygon points="943.5,154.1 948.1,153.1 952.2,149.1 954.2,155.1 953.6,160.1 948.1,158.1" fill="#1eaae6" stroke="#1eaae6" stroke-width=".5"/>
<polygon points="988.2,77.0 992.2,72.0 996.2,74.0 996.2,80.0 990.2,79.6" fill="#1eaae6" stroke="#1eaae6" stroke-width=".5"/>
<polygon points="800.0,138.1 804.0,139.1 807.0,144.1 808.0,148.1 806.0,153.1 803.0,153.1 804.6,146.1 801.0,143.1" fill="#1d7ba5" stroke="#1d7ba5" stroke-width=".5"/>
<polygon points="799.0,46.0 808.0,47.0 810.0,51.0 809.0,56.0 799.0,54.0" fill="#1eaae6" stroke="#1eaae6" stroke-width=".5"/>
<polygon points="821.0,44.0 838.0,44.0 835.0,48.0 823.0,49.0" fill="#1eaae6" stroke="#1eaae6" stroke-width=".5"/>
<polygon points="799.0,61.0 803.0,62.0 804.0,64.0 799.0,64.0" fill="#1eaae6" stroke="#1eaae6" stroke-width=".5"/>
<polygon points="675.2,256.4 695.9,252.0 695.9,269.0 697.2,279.0 694.7,279.7 687.7,277.1 680.8,272.7" fill="#1d7ba5" stroke="#1d7ba5" stroke-width=".5"/>
<polygon points="696.5,251.4 704.1,252.0 704.7,255.8 710.4,257.0 711.0,259.5 712.9,260.2 713.5,265.8 696.5,269.0" fill="#1eaae6" stroke="#1eaae6" stroke-width=".5"/>
<polygon points="696.5,269.6 712.3,267.1 713.5,277.1 720.4,277.8 721.1,284.7 712.9,286.6 705.3,290.3 702.8,288.5 701.6,284.7 695.9,280.9 697.2,279.0" fill="#1d7ba5" stroke="#1d7ba5" stroke-width=".5"/>
<polygon points="712.9,287.8 725.5,287.2 728.6,291.6 729.2,297.9 734.9,299.2 735.5,306.7 722.3,303.6 711.6,303.6 704.1,307.3 702.2,303.6 697.2,301.7 697.8,297.3 702.2,296.6 704.7,298.5 707.9,292.9" fill="#1d7ba5" stroke="#1d7ba5" stroke-width=".5"/>
<polygon points="668.2,292.9 697.2,296.6 697.2,301.7 702.2,303.6 703.5,307.3 700.3,310.5 687.7,312.4 680.8,310.5 678.9,307.3 677.0,302.3 674.5,304.2 672.6,308.6 671.4,303.6 668.2,303.6 669.5,297.9" fill="#1eaae6" stroke="#1eaae6" stroke-width=".5"/>
<polygon points="775.0,190.2 783.2,179.5 795.8,180.1 800.0,188.0 819.0,189.0 821.0,193.0 822.4,201.0 820.0,205.0 812.0,209.0 805.0,208.0 800.0,203.0 795.8,202.1 786.3,200.3 778.1,196.5" fill="#5fcdff" stroke="#5fcdff" stroke-width=".5"/>
<polygon points="795.8,176.2 800.0,175.7 806.0,175.4 809.0,178.0 805.0,180.4 800.0,180.0 796.0,180.5" fill="#1eaae6" stroke="#1eaae6" stroke-width=".5"/>
<polygon points="768.1,205.9 774.4,204.0 779.4,204.0 780.0,208.4 781.9,210.9 783.8,208.4 788.2,207.2 793.2,207.8 795.1,204.0 800.0,202.1 813.4,202.1 813.4,241.8 800.0,240.0 795.8,238.0 788.2,235.5 780.7,227.9 773.1,222.9 767.5,218.5 767.5,215.3 771.2,214.7 771.9,209.7 768.1,209.1" fill="#1eaae6" stroke="#1eaae6" stroke-width=".5"/>
<polygon points="783.2,160.0 793.2,160.0 792.6,161.3 784.4,161.0" fill="#1eaae6" stroke="#1eaae6" stroke-width=".5"/>
<polygon points="775.3,270.1 780.3,270.6 786.5,267.6 790.3,270.1 795.3,268.6 800.3,270.1 799.1,281.1 795.3,281.8 789.0,280.1 784.0,281.8 777.0,280.6" fill="#5fcdff" stroke="#5fcdff" stroke-width=".5"/>
<polygon points="817.0,177.0 821.0,171.0 825.0,171.0 825.9,174.0 829.9,176.0 834.9,174.0 839.9,175.0 840.9,179.0 834.9,181.0 827.9,181.0 825.0,184.0 826.9,187.0 825.9,189.4 822.0,188.0 822.0,185.0 817.0,186.0" fill="#1d7ba5" stroke="#1d7ba5" stroke-width=".5"/>
<polygon points="800.0,203.9 803.0,205.9 805.0,208.9 804.0,215.9 809.0,216.9 810.0,219.9 815.6,218.9 816.0,225.9 819.0,231.9 814.0,241.3 808.0,239.9 800.0,236.5" fill="#1eaae6" stroke="#1eaae6" stroke-width=".5"/>
<polygon points="850.9,179.0 852.9,180.0 854.9,184.0 857.9,183.0 861.9,188.0 863.9,186.6 867.9,188.0 867.9,192.0 863.9,193.0 862.9,196.0 858.9,192.0 853.9,186.0 850.9,183.0" fill="#1eaae6" stroke="#1eaae6" stroke-width=".5"/>
<polygon points="875.8,190.0 883.8,188.0 884.8,192.0 881.8,194.6 877.8,193.0" fill="#1eaae6" stroke="#1eaae6" stroke-width=".5"/>
<polygon points="860.9,200.9 864.9,197.9 865.9,194.0 868.9,195.0 869.9,197.9 872.9,196.9 871.9,192.0 876.8,196.0 879.8,198.9 876.8,201.9 872.9,202.9 869.9,207.9 867.9,208.5 865.9,203.9" fill="#1d7ba5" stroke="#1d7ba5" stroke-width=".5"/>
<polygon points="958.7,186.6 962.7,188.6 966.7,190.0 968.7,194.0 964.7,198.3 960.7,196.0" fill="#1eaae6" stroke="#1eaae6" stroke-width=".5"/>
<polygon points="876.8,256.8 881.8,251.8 887.8,249.8 893.8,248.8 897.8,244.9 900.8,249.8 909.4,249.8 907.8,252.8 899.8,252.8 893.8,251.8 887.8,253.8 881.8,256.8" fill="#5fcdff" stroke="#5fcdff" stroke-width=".5"/>
<polygon points="900.8,249.8 909.4,249.8 907.8,252.8 901.8,253.2" fill="#1eaae6" stroke="#1eaae6" stroke-width=".5"/>
<polygon points="880.8,261.8 888.8,256.8 890.8,258.8 886.8,262.8 880.8,266.4" fill="#1eaae6" stroke="#1eaae6" stroke-width=".5"/>
<polygon points="877.8,282.8 881.8,281.8 883.8,286.8 886.8,290.8 887.8,294.8 894.8,296.7 895.4,300.7 882.8,300.7 879.8,290.8" fill="#1eaae6" stroke="#1eaae6" stroke-width=".5"/>
<polygon points="617.9,295.8 619.8,294.9 625.5,297.0 626.1,295.8 644.3,312.8 642.5,322.2 621.7,300.2 620.4,298.3" fill="#1eaae6" stroke="#1eaae6" stroke-width=".5"/>
<polygon points="650.0,334.8 656.9,330.4 663.8,330.4 665.7,329.1 665.1,335.4 660.7,336.7 658.2,338.6 660.1,350.0 656.9,350.0 654.4,343.0" fill="#1eaae6" stroke="#1eaae6" stroke-width=".5"/>
<polygon points="674.1,340.0 678.1,341.0 682.1,348.1 688.1,352.1 686.1,356.5 681.1,354.1 672.1,353.1 673.1,346.0" fill="#1eaae6" stroke="#1eaae6" stroke-width=".5"/>
<polygon points="669.1,302.0 674.1,298.0 696.1,298.0 698.1,302.0 703.1,304.0 702.1,309.0 692.1,312.0 686.1,311.0 680.1,309.0 678.1,303.0 675.1,304.0 673.1,308.0" fill="#1eaae6" stroke="#1eaae6" stroke-width=".5"/>
<polygon points="772.2,312.0 775.2,310.0 778.2,313.0 782.2,317.0 782.6,323.0 772.2,325.0 771.2,318.0" fill="#5fcdff" stroke="#5fcdff" stroke-width=".5"/>
<polygon points="771.2,325.0 783.2,323.0 783.8,338.0 781.2,349.1 772.2,351.1 765.2,352.1 765.2,350.1 770.2,344.0 769.2,335.0" fill="#1d7ba5" stroke="#1d7ba5" stroke-width=".5"/>
<polygon points="769.2,346.0 774.2,345.0 776.2,348.1 770.2,349.1" fill="#eeeeee" stroke="#eeeeee" stroke-width=".5"/>
<polygon points="719.1,374.1 727.1,372.1 731.1,374.1 736.1,384.1 738.1,394.1 733.1,406.1 728.1,418.1 725.1,419.1 714.1,409.1 702.1,406.1 704.1,400.1 699.1,397.1 700.1,391.1 704.1,389.1 705.1,382.1 716.1,383.1" fill="#1eaae6" stroke="#1eaae6" stroke-width=".5"/>
<polygon points="680.1,410.1 688.1,407.1 700.1,410.1 702.1,406.1 714.1,409.1 725.1,418.1 724.1,422.1 720.1,424.9 677.1,424.9 680.1,418.1" fill="#1eaae6" stroke="#1eaae6" stroke-width=".5"/>
<polygon points="650.1,405.1 654.1,406.1 662.1,402.1 670.1,399.1 684.1,400.1 686.1,403.1 691.1,404.1 688.1,407.1 680.1,410.1 680.1,416.1 667.1,420.1 660.1,418.1 658.1,424.1 650.1,416.1 651.7,410.1" fill="#1eaae6" stroke="#1eaae6" stroke-width=".5"/>
<polygon points="615.0,412.1 626.0,410.1 628.0,413.1 639.0,414.1 640.0,424.9 612.0,424.9" fill="#1d7ba5" stroke="#1d7ba5" stroke-width=".5"/>
<polygon points="882.8,298.0 894.8,298.0 895.4,300.0 885.8,301.4" fill="#1eaae6" stroke="#1eaae6" stroke-width=".5"/>
<polygon points="873.9,313.6 881.4,309.6 882.2,313.6 875.8,318.4" fill="#1eaae6" stroke="#1eaae6" stroke-width=".5"/>
<polygon points="890.8,380.8 897.8,378.8 898.8,375.4 905.8,377.8 906.4,380.8 899.8,383.8 891.8,386.4" fill="#1eaae6" stroke="#1eaae6" stroke-width=".5"/>
<polygon points="964.7,409.8 970.7,407.4 972.7,411.8 978.6,413.8 977.6,415.4 971.7,413.4 969.7,410.8" fill="#1eaae6" stroke="#1eaae6" stroke-width=".5"/>
<polygon points="544.1,461.0 552.2,455.0 560.2,456.0 562.2,454.0 567.2,454.4 567.8,475.1 570.2,482.1 577.2,483.1 579.2,489.1 576.2,497.1 565.2,507.1 562.2,504.1 552.2,503.1 554.2,493.1 547.1,483.1 551.2,476.1 548.1,470.0" fill="#1eaae6" stroke="#1eaae6" stroke-width=".5"/>
<polygon points="505.1,498.7 510.1,503.1 524.1,504.1 525.1,518.0 532.1,513.0 535.1,518.0 531.1,527.4 520.1,528.0 518.1,539.0 512.1,545.0 502.1,545.0 496.1,552.0 494.1,559.0 494.1,597.1 492.1,603.1 489.1,612.1 478.1,605.1 470.1,613.1 456.1,619.1 443.0,618.1 433.0,613.1 443.0,589.1 457.1,560.0 464.1,558.0 460.1,547.0 468.1,528.0 484.1,516.0 500.1,515.0 505.1,513.0" fill="#1eaae6" stroke="#1eaae6" stroke-width=".5"/>
<polygon points="609.0,425.0 640.0,425.0 641.0,431.0 636.0,437.0 630.0,444.0 622.0,447.0 612.0,448.0 607.0,452.0 606.0,445.0 608.0,439.0 600.0,441.0 600.0,438.0 606.0,437.0" fill="#1d7ba5" stroke="#1d7ba5" stroke-width=".5"/>
<polygon points="612.0,424.9 640.0,424.9 640.0,428.1 612.0,428.1" fill="#1d7ba5" stroke="#1d7ba5" stroke-width=".5"/>
<polygon points="600.0,458.0 610.0,461.0 616.0,453.0 630.0,444.0 637.0,437.0 646.0,440.0 658.1,451.0 661.1,456.0 657.1,458.0 658.1,465.0 661.1,472.0 654.1,483.1 649.0,485.1 646.0,490.1 648.0,494.1 643.0,496.1 640.0,491.1 642.0,483.1 633.0,481.1 626.0,477.1 628.0,472.0 624.0,475.1 617.0,485.1 603.0,477.1 605.0,470.0 600.0,467.0 597.0,465.0 598.0,459.0" fill="#1eaae6" stroke="#1eaae6" stroke-width=".5"/>
<polygon points="636.0,504.1 648.0,495.1 658.1,498.1 654.1,513.1 643.0,507.1" fill="#1eaae6" stroke="#1eaae6" stroke-width=".5"/>
<polygon points="623.0,492.1 630.0,490.7 635.0,494.1 633.0,501.1 625.0,502.1 624.0,497.1" fill="#1d7ba5" stroke="#1d7ba5" stroke-width=".5"/>
<polygon points="663.1,509.1 668.1,507.5 682.1,512.1 680.1,519.1 681.1,525.1 677.1,527.1 678.1,533.1 675.1,534.1 674.1,541.1 671.7,532.1 665.1,529.1 662.1,524.1 661.1,518.1" fill="#1d7ba5" stroke="#1d7ba5" stroke-width=".5"/>
<polygon points="671.1,429.0 677.1,425.0 720.1,425.0 722.1,429.0 727.1,430.0 728.1,435.0 735.1,438.0 729.1,441.0 726.1,445.0 720.1,439.0 712.1,435.0 706.1,434.0 704.1,439.0 705.1,443.0 698.1,440.0 690.1,436.0 671.1,432.0" fill="#1eaae6" stroke="#1eaae6" stroke-width=".5"/>
<polygon points="745.1,468.0 748.1,466.6 755.2,471.0 752.2,475.1 749.1,476.1 746.1,473.0" fill="#1d7ba5" stroke="#1d7ba5" stroke-width=".5"/>
<polygon points="792.2,467.0 800.0,468.0 802.2,468.0 802.2,472.0 793.2,479.5 789.2,477.1" fill="#1d7ba5" stroke="#1d7ba5" stroke-width=".5"/>
<polygon points="599.0,548.7 606.0,550.1 610.0,551.9 612.0,555.1 599.0,555.1" fill="#1d7ba5" stroke="#1d7ba5" stroke-width=".5"/>
<polygon points="791.5,432.1 797.8,427.1 802.8,426.6 807.8,429.6 809.1,422.1 815.3,422.1 824.1,425.8 827.8,428.3 832.8,427.6 829.1,432.1 835.3,432.6 844.1,435.8 849.1,440.8 851.6,449.6 851.6,458.3 852.9,462.1 862.9,463.4 864.1,459.6 868.6,459.1 869.6,469.6 871.6,472.1 871.1,475.9 865.4,477.6 856.6,477.1 852.9,480.9 847.8,479.6 841.6,485.1 835.3,482.1 829.6,475.9 831.6,472.1 832.8,463.4 824.1,462.1 821.6,452.1 824.1,447.1 820.3,439.6 814.1,438.3 809.1,439.6 804.1,438.3 800.3,447.1 795.3,447.1 792.8,439.6" fill="#1d7ba5" stroke="#1d7ba5" stroke-width=".5"/>
<polygon points="816.0,496.9 819.0,494.9 820.0,491.9 824.0,489.9 825.9,491.9 823.0,494.9 821.0,495.9 819.0,500.4" fill="#1d7ba5" stroke="#1d7ba5" stroke-width=".5"/>
<polygon points="863.5,515.2 869.9,514.8 872.9,517.8 869.9,520.4 865.9,520.4" fill="#1eaae6" stroke="#1eaae6" stroke-width=".5"/>
<polygon points="978.6,499.9 984.6,497.9 987.6,498.9 991.6,497.9 996.6,500.8 996.6,507.8 989.6,505.8 983.6,501.8" fill="#1eaae6" stroke="#1eaae6" stroke-width=".5"/>
<polygon points="959.7,539.8 962.7,538.4 965.7,540.4 969.7,539.8 971.7,544.8 969.7,551.9 970.1,555.7 963.7,556.7 960.7,551.7 960.7,546.8" fill="#1d7ba5" stroke="#1d7ba5" stroke-width=".5"/>
<polygon points="499.7,607.1 505.1,602.1 512.1,602.1 517.1,608.1 515.1,613.1 509.1,618.1 504.1,614.1" fill="#1eaae6" stroke="#1eaae6" stroke-width=".5"/>
<polygon points="512.1,599.1 520.1,594.1 526.1,595.1 528.1,589.1 525.1,586.1 528.1,582.1 536.1,580.1 542.1,581.1 548.1,586.1 546.1,591.1 550.2,592.1 544.1,593.1 538.1,597.1 536.1,602.1 528.1,611.1 524.1,607.1 520.1,603.1" fill="#1d7ba5" stroke="#1d7ba5" stroke-width=".5"/>
<polygon points="581.2,588.1 586.2,589.1 587.2,584.7 589.8,584.7 590.2,597.1 587.2,597.1 586.2,592.1 581.2,591.1" fill="#1eaae6" stroke="#1eaae6" stroke-width=".5"/>
<polygon points="595.2,555.0 600.0,554.0 600.2,570.1 593.2,569.1 592.2,565.1" fill="#1d7ba5" stroke="#1d7ba5" stroke-width=".5"/>
<polygon points="600.0,549.0 605.0,548.0 615.0,554.0 615.6,564.1 618.4,568.1 614.4,580.1 608.0,578.1 603.0,573.1 600.0,571.1" fill="#1d7ba5" stroke="#1d7ba5" stroke-width=".5"/>
<polygon points="645.0,577.1 649.0,575.5 653.7,575.7 654.5,586.7 651.7,587.5 645.6,584.7 644.4,581.1" fill="#1eaae6" stroke="#1eaae6" stroke-width=".5"/>
<polygon points="925.7,574.9 932.7,571.9 935.7,570.9 932.7,565.9 938.7,567.9 940.7,563.9 946.7,562.9 948.7,568.9 957.7,576.9 953.7,578.9 943.7,575.9 935.7,574.5 927.7,576.3" fill="#1eaae6" stroke="#1eaae6" stroke-width=".5"/>
<polygon points="951.7,585.8 954.7,582.9 960.7,581.9 962.7,578.9 962.7,583.3 958.7,587.2 952.7,588.2" fill="#5fcdff" stroke="#5fcdff" stroke-width=".5"/>
<polygon points="978.6,568.9 984.6,565.9 996.6,564.9 996.6,578.9 987.6,574.9 984.6,570.9" fill="#1d7ba5" stroke="#1d7ba5" stroke-width=".5"/>
<polygon points="989.6,590.8 996.6,588.8 996.6,592.8 990.6,593.8" fill="#1eaae6" stroke="#1eaae6" stroke-width=".5"/>
<polygon points="978.6,612.8 987.6,611.8 996.6,606.8 996.6,624.8 987.6,622.8 986.6,616.8 979.6,615.8" fill="#1eaae6" stroke="#1eaae6" stroke-width=".5"/>
<polygon points="979.6,616.8 987.6,616.8 987.6,622.8 979.6,622.4" fill="#b9e6fc" stroke="#b9e6fc" stroke-width=".5"/>
<polygon points="817.0,629.8 824.0,626.8 841.9,626.4 842.9,628.8 822.0,630.4" fill="#5fcdff" stroke="#5fcdff" stroke-width=".5"/>
<polygon points="844.9,624.8 852.9,626.8 851.9,628.8 845.9,627.8" fill="#5fcdff" stroke="#5fcdff" stroke-width=".5"/>
<polygon points="867.9,409.5 871.6,405.8 879.1,405.0 882.9,410.8 887.9,412.1 889.1,418.3 886.6,424.6 890.4,428.3 886.6,430.8 879.1,429.6 872.9,425.8 869.1,423.3 871.6,418.3 866.6,413.3" fill="#5fcdff" stroke="#5fcdff" stroke-width=".5"/>
<polygon points="845.3,422.1 850.4,419.1 854.1,422.1 852.9,425.8 846.6,426.3" fill="#5fcdff" stroke="#5fcdff" stroke-width=".5"/>
<polygon points="852.9,417.1 861.1,415.1 857.9,424.6 854.1,425.1" fill="#1d7ba5" stroke="#1d7ba5" stroke-width=".5"/>
<polygon points="861.1,435.1 866.6,429.6 872.9,430.8 874.1,434.6 870.4,437.1 871.1,440.8 866.6,438.3" fill="#1d7ba5" stroke="#1d7ba5" stroke-width=".5"/>
<g fill="none" stroke="#ffffff" stroke-opacity=".8" stroke-width=".7" stroke-linejoin="round">
<polyline points="629.1,223.4 636.0,223.4 637.9,219.0 643.6,216.5 648.0,217.7 650.5,212.7 655.5,208.9"/>
<polyline points="629.1,223.4 625.9,239.1 629.1,241.6 640.4,239.1 647.3,239.7 642.9,260.0"/>
<polyline points="627.8,241.6 631.6,260.0"/>
<polyline points="634.1,180.0 639.2,185.7 651.1,186.3 649.2,181.9"/>
<polyline points="654.2,181.3 664.3,181.9 668.1,186.3 674.4,191.3 680.7,190.7 679.4,198.9 676.9,208.3"/>
<polyline points="679.4,198.9 685.7,197.6 688.2,199.5 693.2,196.4 696.4,188.2"/>
<polyline points="676.9,231.6 683.2,232.2 685.7,236.6 686.3,239.7"/>
<polyline points="674.4,250.4 679.4,246.7 680.7,250.4 675.6,255.5 674.4,260.0"/>
<polyline points="675.6,256.1 695.8,252.3"/>
<polyline points="663.5,150.3 679.9,155.3"/>
<polyline points="716.1,89.0 715.1,94.1 717.1,104.1 719.7,114.1 720.1,124.1"/>
<polyline points="586.5,293.3 587.7,324.1 585.8,325.3 584.6,331.6 582.1,332.9 584.0,344.2"/>
<polyline points="568.9,295.2 586.5,292.6 596.5,293.9 597.8,296.4 600.9,297.0"/>
<polyline points="559.4,332.9 571.4,338.6 572.6,335.4 574.5,336.0 573.9,340.4 584.0,344.2 590.3,340.4 604.1,345.5"/>
<polyline points="628.0,238.8 647.5,239.5 643.1,257.7 647.5,261.5 646.9,265.3 638.1,266.5 636.8,270.3 640.6,275.3 640.6,282.9"/>
<polyline points="628.0,238.8 629.2,248.9 635.5,262.7 638.1,266.5"/>
<polyline points="625.5,239.5 628.0,238.8 630.5,226.3"/>
<polyline points="656.1,208.9 676.9,208.3 675.6,216.5 673.7,222.8 674.4,229.1 676.3,230.9 674.4,232.8 672.5,241.6 670.0,252.3 667.5,253.0 661.8,248.6 660.5,245.4 656.1,244.8 654.2,235.3 650.5,232.8 649.8,220.3 655.5,217.7 656.1,208.9"/>
<polyline points="675.2,256.4 695.9,252.0 695.9,269.0 697.2,279.0 694.7,279.7 687.7,277.1 680.8,272.7 675.2,256.4"/>
<polyline points="696.5,269.6 712.3,267.1 713.5,265.8"/>
<polyline points="695.9,280.9 697.2,279.0"/>
<polyline points="697.2,296.6 697.2,301.7 702.2,303.6 703.5,307.3"/>
<polyline points="702.1,406.1 714.1,409.1 725.1,418.1"/>
<polyline points="691.1,404.1 688.1,407.1 680.1,410.1 680.1,416.1"/>
<polyline points="630.0,444.0 622.0,447.0 612.0,448.0 607.0,452.0"/>
</g>
<g text-anchor="middle" direction="rtl" font-weight="bold" stroke="#ffffff" stroke-opacity=".7" stroke-width="1.1" stroke-linejoin="round" paint-order="stroke">
<text transform="translate(696.1,109.9) scale(1.05,1)" font-size="7.5" fill="#747474">רעננה</text>
<text transform="translate(700.1,120.9) scale(1.05,1)" font-size="10.6" fill="#747474">השרון</text>
<text transform="translate(747.7,118.3) scale(1.05,1)" font-size="7.5" fill="#747474">כפר סבא</text>
<text transform="translate(669.1,140.7) scale(1.05,1)" font-size="7.5" fill="#747474">הרצליה</text>
<text transform="translate(801.4,109.8) scale(1.05,1)" font-size="7.5" fill="#747474">קלקיליה</text>
<text transform="translate(830.0,67.2) scale(1.05,1)" font-size="7.5" fill="#747474">כוכב יאיר</text>
<text transform="translate(616.0,203.2) scale(1.05,1)" font-size="7.5" fill="#747474">נופי ים</text>
<text transform="translate(667.7,206.8) scale(1.05,1)" font-size="7.5" fill="#747474">עתידים</text>
<text transform="translate(664.0,230.1) scale(1.05,1)" font-size="7.9" fill="#747474">בני ברק</text>
<text transform="translate(617.0,237.2) scale(1.05,1)" font-size="10.6" fill="#747474">תל אביב</text>
<text transform="translate(715.1,225.1) scale(1.05,1)" font-size="7.9" fill="#747474">פתח תקווה</text>
<text transform="translate(788.8,278.5) scale(1.05,1)" font-size="8.4" fill="#5a5a5a">אלעד</text>
<text transform="translate(570.1,303.0) scale(1.05,1)" font-size="7.5" fill="#747474">צפון</text>
<text transform="translate(568.9,311.4) scale(1.05,1)" font-size="7.5" fill="#747474">מערב העיר</text>
<text transform="translate(575.2,322.5) scale(1.05,1)" font-size="7.5" fill="#747474">בת ים</text>
<text transform="translate(609.7,325.9) scale(1.05,1)" font-size="7.9" fill="#747474">חולון</text>
<text transform="translate(708.1,325.0) scale(1.05,1)" font-size="6.6" fill="#8a8a8a">נמל התעופה</text>
<text transform="translate(706.1,332.0) scale(1.05,1)" font-size="6.6" fill="#8a8a8a">בן גוריון</text>
<text transform="translate(721.5,394.5) scale(1.05,1)" font-size="7.9" fill="#747474">לוד</text>
<text transform="translate(621.6,367.6) scale(1.05,1)" font-size="7.9" fill="#747474">ראשון לציון</text>
<text transform="translate(622.9,386.3) scale(1.05,1)" font-size="7.5" fill="#747474">רמז</text>
<text transform="translate(637.7,402.0) scale(1.05,1)" font-size="7.5" fill="#747474">מישור הנוף</text>
<text transform="translate(699.0,427.4) scale(1.05,1)" font-size="7.9" fill="#747474">רמלה</text>
<text transform="translate(639.0,465.4) scale(1.05,1)" font-size="7.9" fill="#747474">רחובות</text>
<text transform="translate(649.6,488.3) scale(1.05,1)" font-size="7.5" fill="#747474">ביל"ו א</text>
<text transform="translate(880.2,416.4) scale(1.05,1)" font-size="8.4" fill="#5a5a5a">מודיעין</text>
<text transform="translate(878.3,425.8) scale(1.05,1)" font-size="8.4" fill="#5a5a5a">עילית</text>
<text transform="translate(841.9,457.3) scale(1.05,1)" font-size="7.9" fill="#747474">מודיעין</text>
<text transform="translate(840.9,466.7) scale(1.05,1)" font-size="7.9" fill="#747474">מכבים-רעות</text>
<text transform="translate(984.6,541.9) scale(1.05,1)" font-size="7.0" fill="#747474">בדו</text>
<text transform="translate(508.1,535.6) scale(1.05,1)" font-size="7.5" fill="#747474">תעשייה</text>
<text transform="translate(507.5,543.7) scale(1.05,1)" font-size="7.5" fill="#747474">צפוני</text>
<text transform="translate(481.1,571.5) scale(1.05,1)" font-size="7.9" fill="#747474">אשדוד</text>
<text transform="translate(456.5,601.3) scale(1.05,1)" font-size="7.5" fill="#747474">רובע יא</text>
</g>
</svg>

<div class="abs" style="left:555.4px;top:4.7px;width:24px;height:22.2px;background:rgba(255,255,255,.78)">
<svg class="abs" style="left:0;top:0" width="24" height="22" viewBox="0 0 24 22"><circle cx="10.1" cy="9" r="3.1" fill="none" stroke="#555" stroke-width=".9"/><path d="M12.4 11.3 L16.6 15.3" stroke="#555" stroke-width="1.1" stroke-linecap="round"/></svg>
</div>
<div class="abs" style="left:559.5px;top:528.5px;width:19.5px;height:39.5px;background:rgba(255,255,255,.8);box-shadow:0 0 2px rgba(0,0,0,.18)">
<svg class="abs" style="left:0;top:0" width="20" height="40" viewBox="0 0 20 40"><path d="M5.7 10 H14 M9.85 5.8 V14.2 M5.7 29.3 H14" stroke="#3a3a3a" stroke-width="1.3" fill="none"/></svg>
</div>
<div class="abs" style="left:316px;top:572.5px;width:262px;height:10.5px;background:rgba(255,255,255,.65);font-size:8.6px;line-height:10.5px;color:#323232;white-space:nowrap;overflow:hidden;padding-left:2px;letter-spacing:.05px">Esri, HERE, Garmin, METI/NASA, USGS | Esri, HERE, Garmin,...</div>
</div>
</body>
</html>
